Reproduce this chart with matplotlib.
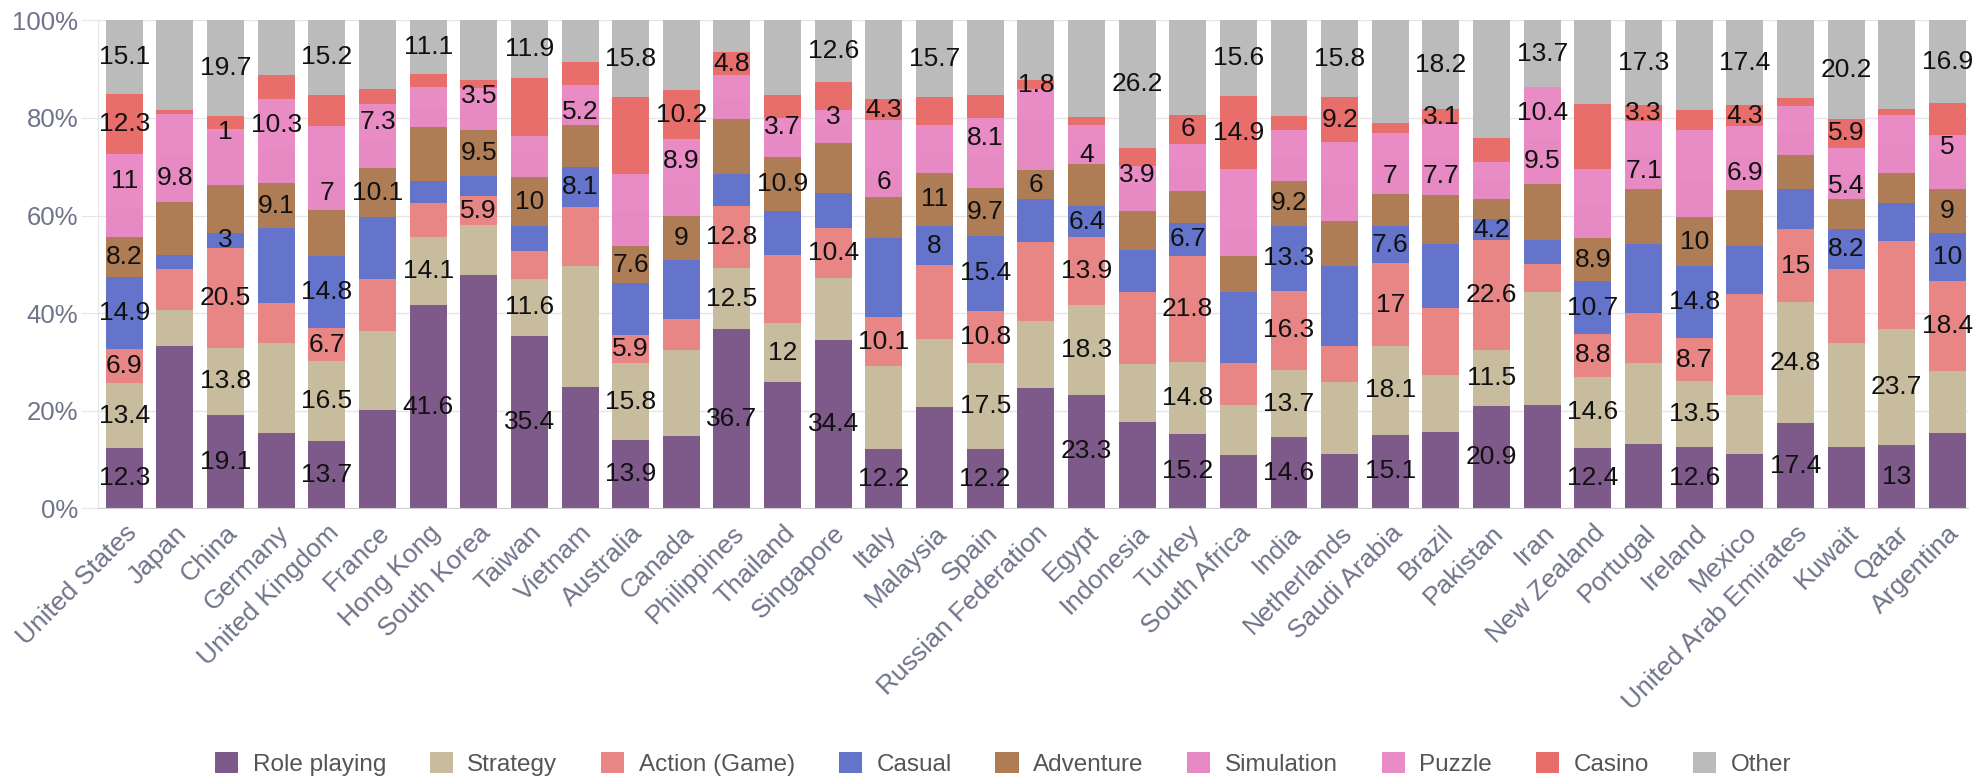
import matplotlib.pyplot as plt
import numpy as np

# share of mobile game downloads by genre, per country (%)
countries = ['United States', 'Japan', 'China', 'Germany', 'United Kingdom', 'France',
             'Hong Kong', 'South Korea', 'Taiwan', 'Vietnam', 'Australia', 'Canada',
             'Philippines', 'Thailand', 'Singapore', 'Italy', 'Malaysia', 'Spain',
             'Russian Federation', 'Egypt', 'Indonesia', 'Turkey', 'South Africa', 'India',
             'Netherlands', 'Saudi Arabia', 'Brazil', 'Pakistan', 'Iran', 'New Zealand',
             'Portugal', 'Ireland', 'Mexico', 'United Arab Emirates', 'Kuwait', 'Qatar',
             'Argentina']
genres = ['Role playing', 'Strategy', 'Action (Game)', 'Casual', 'Adventure',
          'Simulation', 'Puzzle', 'Casino', 'Other']
colors = ['#7e5a8b', '#c8bc9e', '#e88686', '#6474cb', '#ae7d55',
          '#e78ac3', '#e98bc5', '#e76e6b', '#bbbbbb']

role = [12.3, 33.3, 19.1, 15.5, 13.7, 20.1, 41.6, 47.8, 35.4, 24.8, 13.9, 14.9, 36.7,
        25.9, 34.4, 12.2, 20.8, 12.2, 24.6, 23.3, 17.7, 15.2, 10.9, 14.6, 11.1, 15.1,
        15.6, 20.9, 21.2, 12.4, 13.1, 12.6, 11.1, 17.4, 12.5, 13.0, 15.5]
strategy = [13.4, 7.3, 13.8, 18.3, 16.5, 16.2, 14.1, 10.2, 11.6, 24.8, 15.8, 17.5, 12.5,
            12.0, 12.7, 16.9, 13.8, 17.5, 13.8, 18.3, 11.8, 14.8, 10.3, 13.7, 14.8, 18.1,
            11.8, 11.5, 23.2, 14.6, 16.7, 13.5, 12.1, 24.8, 21.3, 23.7, 12.6]
action = [6.9, 8.5, 20.5, 8.2, 6.7, 10.7, 6.8, 5.9, 5.8, 12.2, 5.9, 6.4, 12.8,
          14.0, 10.4, 10.1, 15.2, 10.8, 16.2, 13.9, 14.9, 21.8, 8.6, 16.3, 7.3, 17.0,
          13.6, 22.6, 5.6, 8.8, 10.3, 8.7, 20.8, 15.0, 15.2, 18.0, 18.4]
casual = [14.9, 2.8, 3.0, 15.5, 14.8, 12.6, 4.6, 4.2, 5.0, 8.1, 10.5, 12.1, 6.6,
          9.1, 7.1, 16.1, 8.0, 15.4, 8.7, 6.4, 8.5, 6.7, 14.6, 13.3, 16.6, 7.6,
          13.1, 4.2, 4.9, 10.7, 14.0, 14.8, 9.7, 8.3, 8.2, 7.9, 10.0]
adventure = [8.2, 10.9, 9.8, 9.1, 9.5, 10.1, 11.1, 9.5, 10.0, 8.7, 7.6, 9.0, 11.1,
             10.9, 10.3, 8.5, 11.0, 9.7, 6.0, 8.6, 8.1, 6.6, 7.3, 9.2, 9.2, 6.7,
             10.1, 4.1, 11.5, 8.9, 11.4, 10.0, 11.5, 6.9, 6.1, 6.2, 9.0]
simulation = [5.9, 9.8, 10.5, 6.9, 7.0, 5.9, 4.1, 5.1, 5.0, 5.2, 7.4, 6.8, 4.3,
              4.4, 3.7, 6.0, 4.2, 6.2, 10.3, 4.0, 5.3, 4.8, 6.0, 4.8, 7.7, 7.0,
              7.7, 3.9, 9.5, 6.8, 7.1, 7.3, 6.9, 4.5, 5.4, 5.9, 6.0]
puzzle = [11.0, 8.3, 1.0, 10.3, 10.1, 7.3, 4.0, 3.5, 3.4, 3.0, 7.4, 8.9, 4.7,
          3.7, 3.0, 9.7, 5.5, 8.1, 6.3, 4.0, 3.9, 4.8, 11.8, 5.7, 8.4, 5.5,
          6.8, 3.8, 10.4, 7.3, 6.8, 10.7, 6.2, 5.5, 5.2, 5.8, 5.0]
casino = [12.3, 0.8, 2.6, 5.0, 6.5, 3.0, 2.6, 1.6, 11.9, 4.7, 15.7, 10.2, 4.8,
          4.8, 5.8, 4.3, 5.8, 4.9, 1.8, 1.7, 3.6, 6.0, 14.9, 2.8, 9.2, 2.0,
          3.1, 4.9, 0.0, 13.4, 3.3, 4.1, 4.3, 1.7, 5.9, 1.4, 6.6]
other = [15.1, 18.3, 19.7, 11.2, 15.2, 14.1, 11.1, 12.2, 11.9, 8.5, 15.8, 14.2, 6.5,
         15.2, 12.6, 16.2, 15.7, 15.2, 12.3, 19.8, 26.2, 19.3, 15.6, 19.6, 15.8, 21.0,
         18.2, 24.1, 13.7, 17.1, 17.3, 18.3, 17.4, 15.9, 20.2, 18.1, 16.9]

# which genres (by index) get a value label on each bar
shown = ['01234678', '5', '012368', '46', '012358', '46', '018', '246', '0148', '35',
         '01248', '467', '0127', '146', '0268', '0257', '348', '012346', '47', '01235',
         '68', '01237', '78', '01234', '78', '01235', '578', '0123', '568', '01234',
         '578', '01234', '578', '012', '3578', '01', '23468']

data = np.array([role, strategy, action, casual, adventure, simulation, puzzle, casino, other])
shares = data / data.sum(axis=0) * 100

plt.rcParams['font.family'] = ['Liberation Sans', 'DejaVu Sans']
fig = plt.figure(figsize=(19.82, 7.82), dpi=100)
ax = fig.add_axes([0.0494, 0.350, 0.9436, 0.624])

x = np.arange(len(countries))
bottom = np.zeros(len(countries))
for i, (name, col) in enumerate(zip(genres, colors)):
    bars = ax.bar(x, shares[i], 0.73, bottom=bottom, color=col, label=name, zorder=2)
    labels = [f'{data[i][j]:g}' if str(i) in shown[j] else '' for j in range(len(countries))]
    ax.bar_label(bars, labels=labels, label_type='center', fontsize=19, color='#111111')
    bottom += shares[i]

ax.set_xlim(-0.52, len(countries) - 0.59)
ax.set_ylim(0, 100)
ax.set_yticks(range(0, 101, 20), [f'{v}%' for v in range(0, 101, 20)])
ax.yaxis.grid(True, color='#e6e6e6', lw=1, zorder=0)
ax.tick_params(axis='y', length=12, color='#e6e6e6', labelsize=18.5,
               labelcolor='#70738a', pad=2)
ax.set_xticks(x, countries, rotation=45, ha='right', rotation_mode='anchor',
              fontsize=19, color='#70738a')
ax.tick_params(axis='x', length=0, pad=9)
for s in ['top', 'right']:
    ax.spines[s].set_visible(False)
ax.spines['left'].set_color('#e6e6e6')
ax.spines['bottom'].set_color('#d0d0d0')

fig.legend(loc='lower center', bbox_to_anchor=(0.506, -0.02), ncol=9, frameon=False,
           fontsize=17.5, handlelength=0.95, handleheight=0.95, columnspacing=1.8,
           handletextpad=0.6, labelcolor='#555555')

fig.savefig('out.png', dpi=100)
